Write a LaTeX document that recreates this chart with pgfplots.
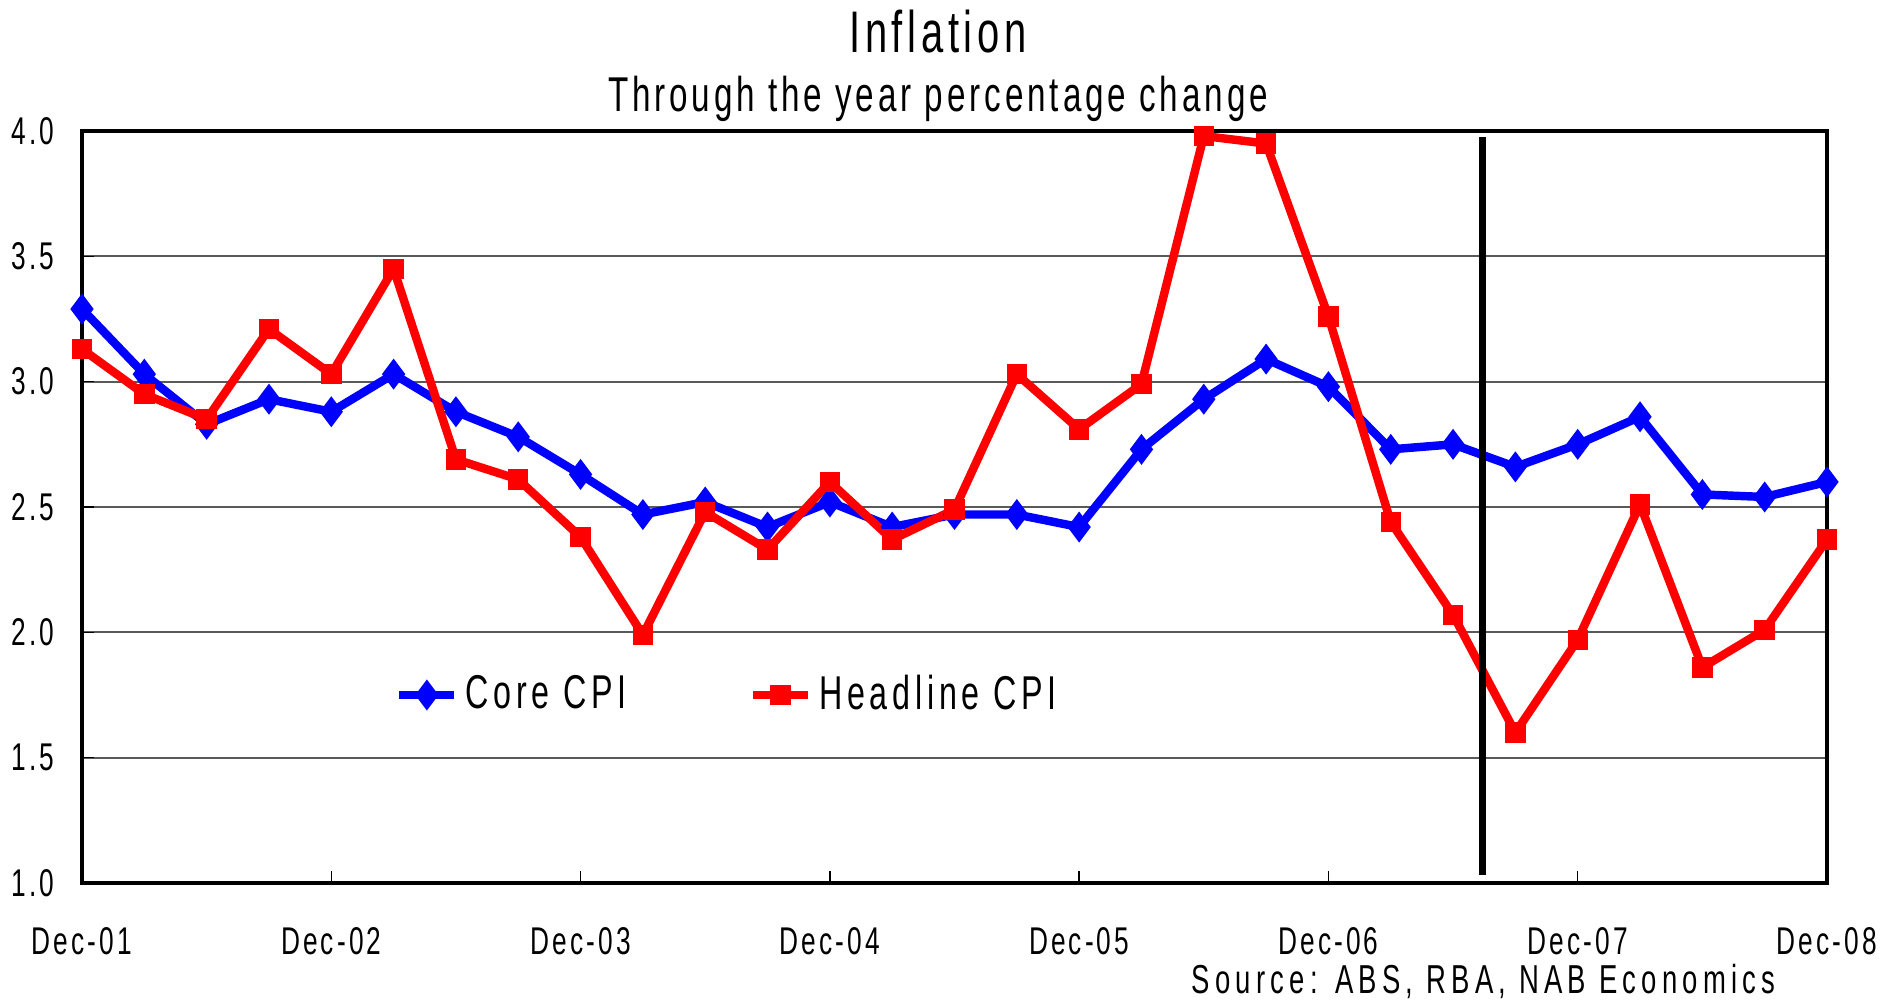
\documentclass[border=0pt]{standalone}
\usepackage{fontspec}
\setmainfont{Liberation Sans}[FakeStretch=0.68, LetterSpace=8]
\usepackage{pgfplots}
\pgfplotsset{compat=1.18}
\begin{document}
\begin{tikzpicture}
\useasboundingbox (-8.2mm,-12.1mm) rectangle (182.0mm,88.3mm);
\begin{axis}[
  scale only axis, width=174.5mm, height=75.2mm,
  at={(0,0)}, anchor=south west,
  xmin=0, xmax=28, ymin=1, ymax=4,
  xtick={0,4,...,28},
  xticklabels={Dec-01,Dec-02,Dec-03,Dec-04,Dec-05,Dec-06,Dec-07,Dec-08},
  ytick={1,1.5,...,4},
  yticklabel style={xshift=-1.5mm, /pgf/number format/fixed, /pgf/number format/fixed zerofill, /pgf/number format/precision=1, /pgf/number format/assume math mode=true},
  ticklabel style={font=\fontsize{11}{13}\selectfont},
  xticklabel style={yshift=-3.2mm},
  tick align=inside, tick pos=left,
  major tick length=1.2mm,
  tick style={black, thin},
  ymajorgrids, grid style={gray!70!black, line width=0.5pt},
  axis line style={black, line width=1.4pt},
  clip=true,
  legend style={draw=none, fill=none, at={(0.173,0.25)}, anchor=west,
    font=\fontsize{13.5}{15}\selectfont\addfontfeature{LetterSpace=10}, legend columns=2,
    /tikz/every even column/.append style={column sep=11.5mm}},
  legend image code/.code={
    \draw[#1, mark repeat=2, mark phase=2] plot coordinates {(0mm,0mm) (2.75mm,0mm) (5.5mm,0mm)};},
]
\addplot[blue, line width=2.4pt, mark=diamond*, mark size=0.85mm, mark options={solid}] coordinates {
(0,3.29) (1,3.03) (2,2.83) (3,2.93) (4,2.88) (5,3.03) (6,2.88) (7,2.78) (8,2.63)
(9,2.47) (10,2.52) (11,2.42) (12,2.52) (13,2.42) (14,2.47) (15,2.47) (16,2.42)
(17,2.73) (18,2.93) (19,3.09) (20,2.98) (21,2.73) (22,2.75) (23,2.66) (24,2.75)
(25,2.86) (26,2.55) (27,2.54) (28,2.60)};
\addlegendentry{Core CPI}
\addplot[red, line width=2.4pt, mark=square*, mark size=0.6mm, mark options={solid}] coordinates {
(0,3.13) (1,2.95) (2,2.85) (3,3.21) (4,3.03) (5,3.45) (6,2.69) (7,2.61) (8,2.38)
(9,1.99) (10,2.48) (11,2.33) (12,2.60) (13,2.37) (14,2.49) (15,3.03) (16,2.81)
(17,2.99) (18,3.98) (19,3.95) (20,3.26) (21,2.44) (22,2.07) (23,1.60) (24,1.97)
(25,2.51) (26,1.86) (27,2.01) (28,2.37)};
\addlegendentry{Headline CPI}
\addplot[black, line width=2.2pt, forget plot] coordinates {(22.47,1.03) (22.47,3.975)};
\end{axis}
\node[anchor=base, font=\fontsize{16.7}{18}\selectfont] at (85.6mm,83.0mm) {Inflation};
\node[anchor=base, font=\fontsize{13.9}{16}\selectfont] at (85.6mm,77.1mm) {Through the year percentage change};
\node[anchor=base east, font=\fontsize{11.5}{13}\selectfont\addfontfeature{LetterSpace=13}] at (170.6mm,-11.0mm) {Source: ABS, RBA, NAB Economics};
\end{tikzpicture}
\end{document}
